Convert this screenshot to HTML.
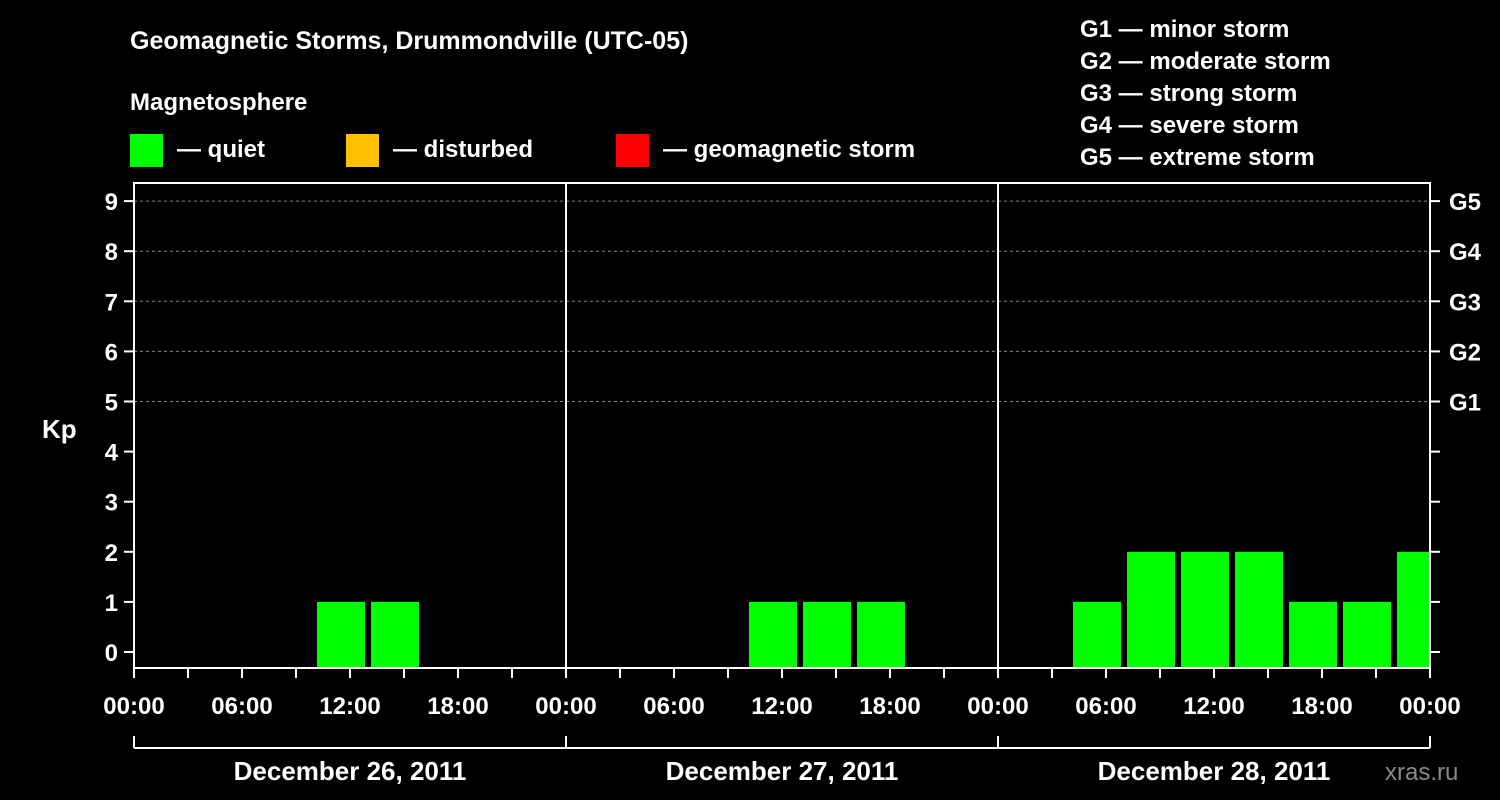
<!DOCTYPE html>
<html><head><meta charset="utf-8"><style>
html,body{margin:0;padding:0;background:#000;}
svg{display:block;font-family:"Liberation Sans",Arial,sans-serif;font-weight:bold;}
</style></head><body>
<svg id="c" width="1500" height="800" viewBox="0 0 1500 800">
<rect x="0" y="0" width="1500" height="800" fill="#000"/>
<text x="130" y="49" fill="#fff" font-size="25">Geomagnetic Storms, Drummondville (UTC-05)</text>
<text x="130" y="110" fill="#fff" font-size="24">Magnetosphere</text>
<g><rect x="130" y="134" width="33" height="33" fill="#00ff00"/><text x="177" y="157" fill="#fff" font-size="24">— quiet</text></g>
<g><rect x="346" y="134" width="33" height="33" fill="#ffc000"/><text x="393" y="157" fill="#fff" font-size="24">— disturbed</text></g>
<g><rect x="616" y="134" width="33" height="33" fill="#ff0000"/><text x="663" y="157" fill="#fff" font-size="24">— geomagnetic storm</text></g>
<g font-size="24" fill="#fff">
<text x="1080" y="37">G1 — minor storm</text>
<text x="1080" y="69">G2 — moderate storm</text>
<text x="1080" y="101">G3 — strong storm</text>
<text x="1080" y="133">G4 — severe storm</text>
<text x="1080" y="165">G5 — extreme storm</text>
</g>
<text x="42" y="438" fill="#fff" font-size="26">Kp</text>
<text x="1385" y="780" fill="#888" font-size="24" font-weight="normal">xras.ru</text>
<g id="plot"></g>
</svg>
<script>
const slotStartHour = -2;
const kpValues = [0,0,0,0,1,1,0,0,0,0,0,0,1,1,1,0,0,0,1,2,2,2,1,1,2];
const dayLabels = ["December 26, 2011","December 27, 2011","December 28, 2011"];
const hourLabels = ["00:00","06:00","12:00","18:00"];
const gLabels = ["G1","G2","G3","G4","G5"];

const NS="http://www.w3.org/2000/svg";
const X0=134,X1=1430,Y0=183,Y1=668;
const pxPerHour=(X1-X0)/72;
const x=h=>X0+h*pxPerHour;
const y=k=>652-k*50.1;
const g=document.getElementById('plot');
function mk(t,a,p){const e=document.createElementNS(NS,t);for(const k in a)e.setAttribute(k,a[k]);(p||g).appendChild(e);return e;}

// grid
for(let k=5;k<=9;k++){
  const l=mk('line',{x1:X0,x2:X1,y1:y(k),y2:y(k),stroke:'#888','stroke-dasharray':'3,3','stroke-width':1});
  
  
}
// bars
kpValues.forEach((v,i)=>{
  if(v<=0)return;
  const s=slotStartHour+3*i;
  let a=x(s)+3,b=x(s+3)-3;
  a=Math.max(a,X0);b=Math.min(b,X1);
  const r=mk('rect',{x:a,y:y(v),width:b-a,height:Y1-y(v),fill:'#00ff00'});
  
  
});
// frame and day separators
const fr=mk('rect',{x:X0,y:Y0,width:X1-X0,height:Y1-Y0,fill:'none',stroke:'#fff','stroke-width':2});


for(let d=1;d<dayLabels.length;d++){
  const l=mk('line',{x1:x(24*d),x2:x(24*d),y1:Y0,y2:Y1,stroke:'#fff','stroke-width':2});
  
  
}
// y ticks
for(let k=0;k<=9;k++){
  mk('line',{x1:X0-10,x2:X0,y1:y(k),y2:y(k),stroke:'#fff','stroke-width':2});
  mk('line',{x1:X1,x2:X1+10,y1:y(k),y2:y(k),stroke:'#fff','stroke-width':2});
  const t=mk('text',{x:X0-16,y:y(k)+9,fill:'#fff','font-size':24,'text-anchor':'end'});
  t.textContent=k;
  
  
}
gLabels.forEach((s,i)=>{
  const t=mk('text',{x:1449,y:y(5+i)+9,fill:'#fff','font-size':24});
  t.textContent=s;
  
  
});
// x ticks
for(let h=0;h<=72;h+=3){
  mk('line',{x1:x(h),x2:x(h),y1:Y1,y2:Y1+10,stroke:'#fff','stroke-width':2});
  if(h%6===0){
    const t=mk('text',{x:x(h),y:714,fill:'#fff','font-size':24,'text-anchor':'middle'});
    t.textContent=hourLabels[(h/6)%4];
    
    
  }
}
// day brackets
mk('line',{x1:X0,x2:X1,y1:748,y2:748,stroke:'#fff','stroke-width':2});
dayLabels.forEach((s,d)=>{
  mk('line',{x1:x(24*d),x2:x(24*d),y1:736,y2:748,stroke:'#fff','stroke-width':2});
  const t=mk('text',{x:x(24*d+12),y:780,fill:'#fff','font-size':26,'text-anchor':'middle'});
  t.textContent=s;
  
  
});
mk('line',{x1:X1,x2:X1,y1:736,y2:748,stroke:'#fff','stroke-width':2});
</script>
</body></html>
